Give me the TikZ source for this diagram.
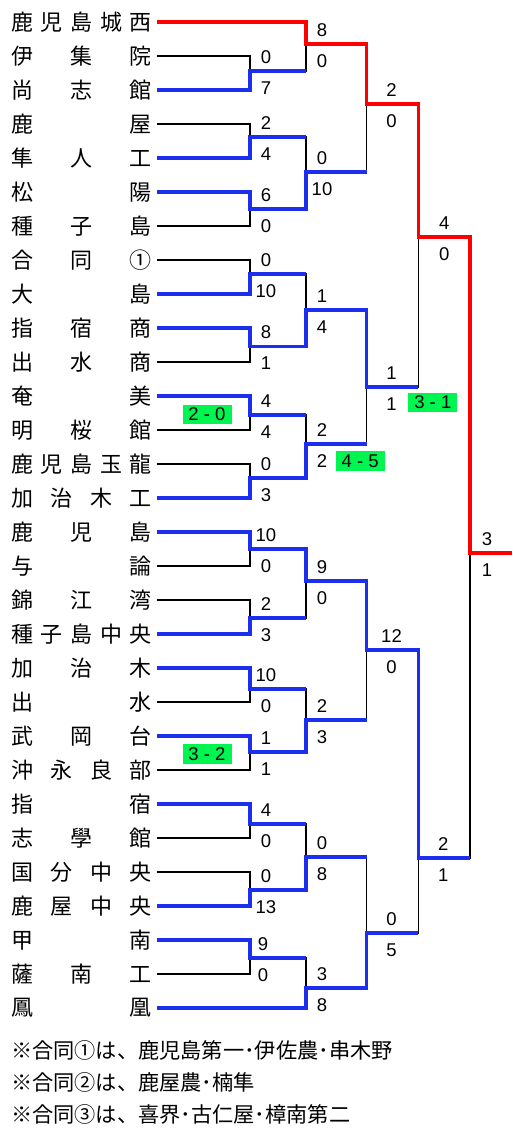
\documentclass[tikz,border=0pt]{standalone}
\usepackage{fontspec}
\setmainfont{Liberation Sans}
\newfontfamily\jpfont{Noto Sans CJK JP}
\usetikzlibrary{positioning}

\definecolor{bkRed}{RGB}{255,0,0}
\definecolor{bkBlue}{RGB}{28,46,238}
\definecolor{bkGreen}{RGB}{0,245,80}

\newcommand{\bracketTeamWidth}{141pt}
\newcommand{\bracketRowGap}{34pt}
\newcommand{\teamName}[1]{\makebox[\bracketTeamWidth][s]{#1}}
\tikzset{
  bk team/.style={inner sep=0pt, font=\jpfont\fontsize{22}{24}\selectfont},
  bk note/.style={inner sep=0pt, anchor=west, font=\jpfont\fontsize{21.2}{24}\selectfont},
  bk score/.style={inner sep=0pt, font=\fontsize{18.5}{20}\selectfont},
  bk pk/.style={fill=bkGreen, inner sep=0pt, minimum width=49pt,
    minimum height=19.5pt, font=\fontsize{18.5}{20}\selectfont},
  bk lost/.style={black, line width=1.4pt},
  bk won/.style={bkBlue, line width=3.6pt},
  bk champ/.style={bkRed, line width=3.6pt},
}

\begin{document}
\begin{tikzpicture}[
    x=1pt, y=1pt,
    node distance=\bracketRowGap,
    team/.style={bk team},
    note/.style={bk note},
    score/.style={bk score},
    pk/.style={bk pk},
    lost/.style={bk lost},
    won/.style={bk won},
    champ/.style={bk champ}
]
\useasboundingbox (0,0) rectangle (512,-1136);
\fill[white] (0,0) rectangle (512,-1136);

\node (t1)  [team] at (81.5,-22) {\teamName{鹿 児 島 城 西}};
\node (t2)  [team, below of=t1]  {\teamName{伊 集 院}};
\node (t3)  [team, below of=t2]  {\teamName{尚 志 館}};
\node (t4)  [team, below of=t3]  {\teamName{鹿 屋}};
\node (t5)  [team, below of=t4]  {\teamName{隼 人 工}};
\node (t6)  [team, below of=t5]  {\teamName{松 陽}};
\node (t7)  [team, below of=t6]  {\teamName{種 子 島}};
\node (t8)  [team, below of=t7]  {\teamName{合 同 ①}};
\node (t9)  [team, below of=t8]  {\teamName{大 島}};
\node (t10) [team, below of=t9]  {\teamName{指 宿 商}};
\node (t11) [team, below of=t10] {\teamName{出 水 商}};
\node (t12) [team, below of=t11] {\teamName{奄 美}};
\node (t13) [team, below of=t12] {\teamName{明 桜 館}};
\node (t14) [team, below of=t13] {\teamName{鹿 児 島 玉 龍}};
\node (t15) [team, below of=t14] {\teamName{加 治 木 工}};
\node (t16) [team, below of=t15] {\teamName{鹿 児 島}};
\node (t17) [team, below of=t16] {\teamName{与 論}};
\node (t18) [team, below of=t17] {\teamName{錦 江 湾}};
\node (t19) [team, below of=t18] {\teamName{種 子 島 中 央}};
\node (t20) [team, below of=t19] {\teamName{加 治 木}};
\node (t21) [team, below of=t20] {\teamName{出 水}};
\node (t22) [team, below of=t21] {\teamName{武 岡 台}};
\node (t23) [team, below of=t22] {\teamName{沖 永 良 部}};
\node (t24) [team, below of=t23] {\teamName{指 宿}};
\node (t25) [team, below of=t24] {\teamName{志 學 館}};
\node (t26) [team, below of=t25] {\teamName{国 分 中 央}};
\node (t27) [team, below of=t26] {\teamName{鹿 屋 中 央}};
\node (t28) [team, below of=t27] {\teamName{甲 南}};
\node (t29) [team, below of=t28] {\teamName{薩 南 工}};
\node (t30) [team, below of=t29] {\teamName{鳳 凰}};

\coordinate (mA)   at (250,-71);
\coordinate (mB)   at (306,-44);
\coordinate (mC)   at (250,-137);
\coordinate (mD)   at (250,-209);
\coordinate (mE)   at (306,-172);
\coordinate (mF)   at (366.5,-104);
\coordinate (mG)   at (250,-274);
\coordinate (mH)   at (250,-346.5);
\coordinate (mI)   at (306,-310);
\coordinate (mJ)   at (250,-415);
\coordinate (mK)   at (250,-478);
\coordinate (mL)   at (306,-444);
\coordinate (mM)   at (366.5,-387);
\coordinate (mN)   at (418.3,-237);
\coordinate (mO)   at (250,-549);
\coordinate (mP)   at (250,-618);
\coordinate (mQ)   at (306,-581);
\coordinate (mR)   at (250,-689);
\coordinate (mS)   at (250,-752);
\coordinate (mT)   at (306,-720);
\coordinate (mU)   at (366.5,-650);
\coordinate (mV)   at (250,-824);
\coordinate (mW)   at (250,-890);
\coordinate (mX)   at (306,-857);
\coordinate (mY)   at (250,-958);
\coordinate (mZ)   at (306,-988);
\coordinate (mAA)  at (366.5,-933);
\coordinate (mBB)  at (418.3,-858);
\coordinate (mFin) at (470,-553);
\coordinate (goal) at (512,-553);

\draw [lost] ([xshift=5pt]t1.east)  -| (mB);
\draw [lost] ([xshift=5pt]t2.east)  -| (mA);
\draw [lost] ([xshift=5pt]t3.east)  -| (mA);
\draw [lost] ([xshift=5pt]t4.east)  -| (mC);
\draw [lost] ([xshift=5pt]t5.east)  -| (mC);
\draw [lost] ([xshift=5pt]t6.east)  -| (mD);
\draw [lost] ([xshift=5pt]t7.east)  -| (mD);
\draw [lost] ([xshift=5pt]t8.east)  -| (mG);
\draw [lost] ([xshift=5pt]t9.east)  -| (mG);
\draw [lost] ([xshift=5pt]t10.east) -| (mH);
\draw [lost] ([xshift=5pt]t11.east) -| (mH);
\draw [lost] ([xshift=5pt]t12.east) -| (mJ);
\draw [lost] ([xshift=5pt]t13.east) -| (mJ);
\draw [lost] ([xshift=5pt]t14.east) -| (mK);
\draw [lost] ([xshift=5pt]t15.east) -| (mK);
\draw [lost] ([xshift=5pt]t16.east) -| (mO);
\draw [lost] ([xshift=5pt]t17.east) -| (mO);
\draw [lost] ([xshift=5pt]t18.east) -| (mP);
\draw [lost] ([xshift=5pt]t19.east) -| (mP);
\draw [lost] ([xshift=5pt]t20.east) -| (mR);
\draw [lost] ([xshift=5pt]t21.east) -| (mR);
\draw [lost] ([xshift=5pt]t22.east) -| (mS);
\draw [lost] ([xshift=5pt]t23.east) -| (mS);
\draw [lost] ([xshift=5pt]t24.east) -| (mV);
\draw [lost] ([xshift=5pt]t25.east) -| (mV);
\draw [lost] ([xshift=5pt]t26.east) -| (mW);
\draw [lost] ([xshift=5pt]t27.east) -| (mW);
\draw [lost] ([xshift=5pt]t28.east) -| (mY);
\draw [lost] ([xshift=5pt]t29.east) -| (mY);
\draw [lost] ([xshift=5pt]t30.east) -| (mZ);

\draw [lost] (mA) -| (mB);
\draw [lost] (mC) -| (mE);
\draw [lost] (mD) -| (mE);
\draw [lost] (mB) -| (mF);
\draw [lost] (mE) -| (mF);
\draw [lost] (mG) -| (mI);
\draw [lost] (mH) -| (mI);
\draw [lost] (mJ) -| (mL);
\draw [lost] (mK) -| (mL);
\draw [lost] (mI) -| (mM);
\draw [lost] (mL) -| (mM);
\draw [lost] (mF) -| (mN);
\draw [lost] (mM) -| (mN);
\draw [lost] (mN) -| (mFin);
\draw [lost] (mO) -| (mQ);
\draw [lost] (mP) -| (mQ);
\draw [lost] (mR) -| (mT);
\draw [lost] (mS) -| (mT);
\draw [lost] (mQ) -| (mU);
\draw [lost] (mT) -| (mU);
\draw [lost] (mV) -| (mX);
\draw [lost] (mW) -| (mX);
\draw [lost] (mY) -| (mZ);
\draw [lost] (mX) -| (mAA);
\draw [lost] (mZ) -| (mAA);
\draw [lost] (mU) -| (mBB);
\draw [lost] (mAA) -| (mBB);
\draw [lost] (mBB) -| (mFin);

\draw [won] ([xshift=5pt]t3.east)  -| (mA) -- (mA -| mB);
\draw [won] ([xshift=5pt]t5.east)  -| (mC) -- (mC -| mE);
\draw [won] ([xshift=5pt]t6.east)  -| (mD) -| (mE) -- (mE -| mF);
\draw [won] ([xshift=5pt]t9.east)  -| (mG) -- (mG -| mI);
\draw [won] ([xshift=5pt]t10.east) -| (mH) -| (mI) -| (mM) -- (mM -| mN);
\draw [won] ([xshift=5pt]t12.east) -| (mJ) -- (mJ -| mL);
\draw [won] ([xshift=5pt]t15.east) -| (mK) -| (mL) -- (mL -| mM);
\draw [won] ([xshift=5pt]t16.east) -| (mO) -| (mQ) -| (mU) -| (mBB) -- (mBB -| mFin);
\draw [won] ([xshift=5pt]t19.east) -| (mP) -- (mP -| mQ);
\draw [won] ([xshift=5pt]t20.east) -| (mR) -- (mR -| mT);
\draw [won] ([xshift=5pt]t22.east) -| (mS) -| (mT) -- (mT -| mU);
\draw [won] ([xshift=5pt]t24.east) -| (mV) -- (mV -| mX);
\draw [won] ([xshift=5pt]t27.east) -| (mW) -| (mX) -- (mX -| mAA);
\draw [won] ([xshift=5pt]t28.east) -| (mY) -- (mY -| mZ);
\draw [won] ([xshift=5pt]t30.east) -| (mZ) -| (mAA) -- (mAA -| mBB);
\draw [champ] ([xshift=5pt]t1.east) -| (mB) -| (mF) -| (mN) -| (mFin) -- (goal);

\node (sA1)   [score] at ([xshift=16pt,yshift=14pt]mA)    {0};
\node (sA2)   [score] at ([xshift=16pt,yshift=-17pt]mA)   {7};
\node (sB1)   [score] at ([xshift=16pt,yshift=14pt]mB)    {8};
\node (sB2)   [score] at ([xshift=16pt,yshift=-17pt]mB)   {0};
\node (sC1)   [score] at ([xshift=16pt,yshift=14pt]mC)    {2};
\node (sC2)   [score] at ([xshift=16pt,yshift=-17pt]mC)   {4};
\node (sD1)   [score] at ([xshift=16pt,yshift=14pt]mD)    {6};
\node (sD2)   [score] at ([xshift=16pt,yshift=-17pt]mD)   {0};
\node (sE1)   [score] at ([xshift=16pt,yshift=14pt]mE)    {0};
\node (sE2)   [score] at ([xshift=16pt,yshift=-17pt]mE)   {10};
\node (sF1)   [score] at ([xshift=25pt,yshift=14pt]mF)    {2};
\node (sF2)   [score] at ([xshift=25pt,yshift=-17pt]mF)   {0};
\node (sG1)   [score] at ([xshift=16pt,yshift=14pt]mG)    {0};
\node (sG2)   [score] at ([xshift=16pt,yshift=-17pt]mG)   {10};
\node (sH1)   [score] at ([xshift=16pt,yshift=14pt]mH)    {8};
\node (sH2)   [score] at ([xshift=16pt,yshift=-17pt]mH)   {1};
\node (sI1)   [score] at ([xshift=16pt,yshift=14pt]mI)    {1};
\node (sI2)   [score] at ([xshift=16pt,yshift=-17pt]mI)   {4};
\node (sJ1)   [score] at ([xshift=16pt,yshift=14pt]mJ)    {4};
\node (sJ2)   [score] at ([xshift=16pt,yshift=-17pt]mJ)   {4};
\node (sK1)   [score] at ([xshift=16pt,yshift=14pt]mK)    {0};
\node (sK2)   [score] at ([xshift=16pt,yshift=-17pt]mK)   {3};
\node (sL1)   [score] at ([xshift=16pt,yshift=14pt]mL)    {2};
\node (sL2)   [score] at ([xshift=16pt,yshift=-17pt]mL)   {2};
\node (sM1)   [score] at ([xshift=25pt,yshift=14pt]mM)    {1};
\node (sM2)   [score] at ([xshift=25pt,yshift=-17pt]mM)   {1};
\node (sN1)   [score] at ([xshift=26pt,yshift=14pt]mN)    {4};
\node (sN2)   [score] at ([xshift=26pt,yshift=-17pt]mN)   {0};
\node (sO1)   [score] at ([xshift=16pt,yshift=14pt]mO)    {10};
\node (sO2)   [score] at ([xshift=16pt,yshift=-17pt]mO)   {0};
\node (sP1)   [score] at ([xshift=16pt,yshift=14pt]mP)    {2};
\node (sP2)   [score] at ([xshift=16pt,yshift=-17pt]mP)   {3};
\node (sQ1)   [score] at ([xshift=16pt,yshift=14pt]mQ)    {9};
\node (sQ2)   [score] at ([xshift=16pt,yshift=-17pt]mQ)   {0};
\node (sR1)   [score] at ([xshift=16pt,yshift=14pt]mR)    {10};
\node (sR2)   [score] at ([xshift=16pt,yshift=-17pt]mR)   {0};
\node (sS1)   [score] at ([xshift=16pt,yshift=14pt]mS)    {1};
\node (sS2)   [score] at ([xshift=16pt,yshift=-17pt]mS)   {1};
\node (sT1)   [score] at ([xshift=16pt,yshift=14pt]mT)    {2};
\node (sT2)   [score] at ([xshift=16pt,yshift=-17pt]mT)   {3};
\node (sU1)   [score] at ([xshift=25pt,yshift=14pt]mU)    {12};
\node (sU2)   [score] at ([xshift=25pt,yshift=-17pt]mU)   {0};
\node (sV1)   [score] at ([xshift=16pt,yshift=14pt]mV)    {4};
\node (sV2)   [score] at ([xshift=16pt,yshift=-17pt]mV)   {0};
\node (sW1)   [score] at ([xshift=16pt,yshift=14pt]mW)    {0};
\node (sW2)   [score] at ([xshift=16pt,yshift=-17pt]mW)   {13};
\node (sX1)   [score] at ([xshift=16pt,yshift=14pt]mX)    {0};
\node (sX2)   [score] at ([xshift=16pt,yshift=-17pt]mX)   {8};
\node (sY1)   [score] at ([xshift=13pt,yshift=14pt]mY)    {9};
\node (sY2)   [score] at ([xshift=13pt,yshift=-17pt]mY)   {0};
\node (sZ1)   [score] at ([xshift=16pt,yshift=14pt]mZ)    {3};
\node (sZ2)   [score] at ([xshift=16pt,yshift=-17pt]mZ)   {8};
\node (sAA1)  [score] at ([xshift=25pt,yshift=14pt]mAA)   {0};
\node (sAA2)  [score] at ([xshift=25pt,yshift=-17pt]mAA)  {5};
\node (sBB1)  [score] at ([xshift=25pt,yshift=14pt]mBB)   {2};
\node (sBB2)  [score] at ([xshift=25pt,yshift=-17pt]mBB)  {1};
\node (sFin1) [score] at ([xshift=17pt,yshift=14pt]mFin)  {3};
\node (sFin2) [score] at ([xshift=17pt,yshift=-17pt]mFin) {1};

\node (pkJ) [pk] at (207,-414.3)   {2 - 0};
\node (pkL) [pk] at (360.2,-461.2) {4 - 5};
\node (pkM) [pk] at (432.8,-402.5) {3 - 1};
\node (pkS) [pk] at (207,-753.8)   {3 - 2};

\node (note1) [note] at (11,-1050.5) {※合同①は、鹿児島第一･伊佐農･串木野};
\node (note2) [note] at (11,-1082)   {※合同②は、鹿屋農･楠隼};
\node (note3) [note] at (11,-1114)   {※合同③は、喜界･古仁屋･樟南第二};
\end{tikzpicture}
\end{document}
